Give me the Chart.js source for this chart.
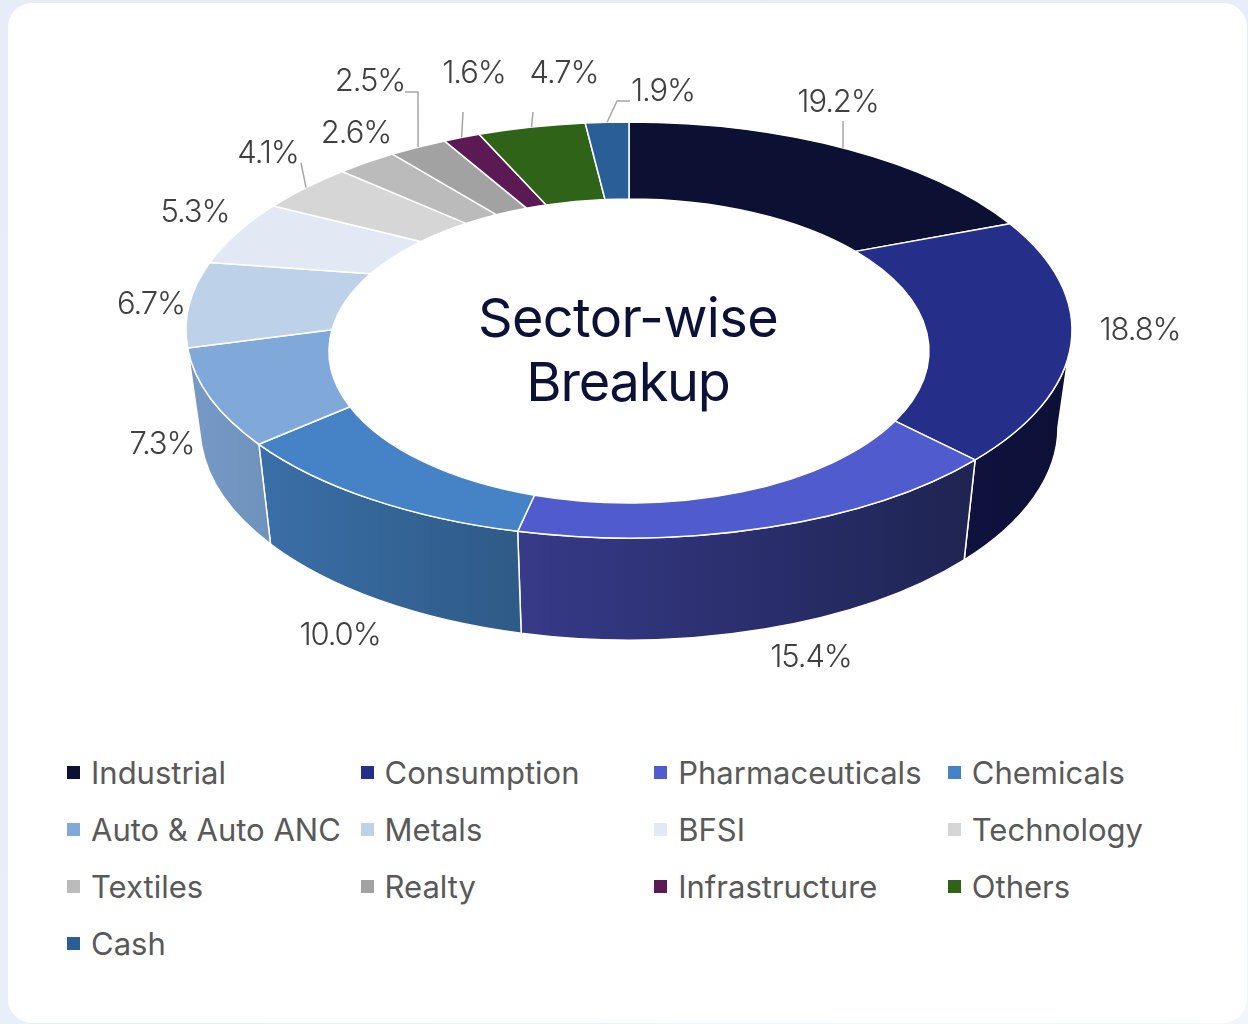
<!DOCTYPE html>
<html>
<head>
<meta charset="utf-8">
<title>Sector-wise Breakup</title>
<script src="https://cdn.jsdelivr.net/npm/chart.js@4/dist/chart.umd.js"></script>
<style>
  html, body { margin: 0; padding: 0; width: 1248px; height: 1024px; overflow: hidden; background: linear-gradient(160deg, #e6edf8 0%, #e8eff9 70%, #f2f6fc 100%); }
  #card { position: absolute; left: 8px; top: 3px; width: 1239px; height: 1020px; background: #fff; border-radius: 24px; }
  #ring { position: absolute; left: 0; top: 0; }
  #legend { position: absolute; left: 67px; top: 744px; display: grid; grid-template-columns: repeat(4, 293.6px); grid-auto-rows: 57px;
    font: 400 31px Inter, sans-serif; color: #595959; }
  .legend-item { display: flex; align-items: center; white-space: nowrap; }
  .legend-dot { width: 13px; height: 13px; margin-right: 11px; flex: none; }
</style>
</head>
<body>
<div id="card"></div>
<canvas id="ring" width="1248" height="720"></canvas>
<div id="legend"></div>
<script>
const CATEGORIES = ['Industrial', 'Consumption', 'Pharmaceuticals', 'Chemicals', 'Auto & Auto ANC', 'Metals', 'BFSI',
  'Technology', 'Textiles', 'Realty', 'Infrastructure', 'Others', 'Cash'];
const VALUES = [19.2, 18.8, 15.4, 10.0, 7.3, 6.7, 5.3, 4.1, 2.6, 2.5, 1.6, 4.7, 1.9];
const COLORS = ['#0c1033', '#252f8a', '#505bce', '#4682c6', '#80a9da', '#bdd2e8', '#e2e9f4',
  '#d6d6d6', '#bbbbbb', '#a2a2a2', '#5c1a55', '#2f6418', '#2a5e96'];
// side wall shades, left and right end of each visible wall
const WALLS = { 1: ['#0f123e', '#0d1036'], 2: ['#363a88', '#1f2453'], 3: ['#3a6ea6', '#2e5a86'], 4: ['#7599c4', '#6e92bb'] };

// label centre, then optional leader elbows
const LABEL_SPOTS = [
  { x: 838, y: 103, leader: [[843, 121]] },
  { x: 1140, y: 331 },
  { x: 811, y: 658 },
  { x: 340, y: 636 },
  { x: 162, y: 445 },
  { x: 151, y: 305 },
  { x: 195, y: 213 },
  { x: 268, y: 154, leader: [[301, 163]] },
  { x: 356, y: 134 },
  { x: 370, y: 82, leader: [[405, 92], [418, 92]] },
  { x: 474, y: 74, leader: [[463, 112]] },
  { x: 564, y: 74, leader: [[533, 112]] },
  { x: 663, y: 92, leader: [[630, 101], [617, 101]] },
];

// ring shape on screen, offsets from the chart centre
const OUTER = { dy: 0, rx: 443, ry: 208 };
const INNER = { dy: 21, rx: 300, ry: 152 };
const BASE = { dy: 97, rx: 429, ry: 213 };
const APEX_DY = -38;
const WARP = 0.19;
const WARP2 = 0.01;

// library angle -> ellipse parameter on the outer edge, canvas convention
function toParam(angle) {
  const t = angle + Math.PI / 2;
  return t - WARP * Math.sin(t) + WARP2 * Math.sin(2 * t) - Math.PI / 2;
}

function outerPoint(arc, angle) {
  const p = toParam(angle);
  return { x: arc.x + OUTER.rx * Math.cos(p), y: arc.y + OUTER.dy + OUTER.ry * Math.sin(p) };
}

// where the slice edge coming from the apex crosses the hole, as a hole ellipse parameter
function innerParam(arc, angle) {
  const o = outerPoint(arc, angle);
  const ax = 0, ay = APEX_DY - INNER.dy;
  const dx = o.x - arc.x, dy = o.y - (arc.y + APEX_DY);
  const a = (dx * dx) / (INNER.rx * INNER.rx) + (dy * dy) / (INNER.ry * INNER.ry);
  const b = 2 * ((ax * dx) / (INNER.rx * INNER.rx) + (ay * dy) / (INNER.ry * INNER.ry));
  const c = (ax * ax) / (INNER.rx * INNER.rx) + (ay * ay) / (INNER.ry * INNER.ry) - 1;
  const s = (-b + Math.sqrt(b * b - 4 * a * c)) / (2 * a);
  const raw = Math.atan2((ay + s * dy) / INNER.ry, (ax + s * dx) / INNER.rx);
  // keep it on the same turn as the outer parameter
  const p = toParam(angle);
  return raw + Math.round((p - raw) / (2 * Math.PI)) * 2 * Math.PI;
}

class RingArc extends Chart.ArcElement {
  static id = 'ringArc';
  draw(ctx) {
    const { startAngle, endAngle, x, y } = this;
    ctx.save();
    ctx.beginPath();
    ctx.ellipse(x, y + OUTER.dy, OUTER.rx, OUTER.ry, 0, toParam(startAngle), toParam(endAngle));
    ctx.ellipse(x, y + INNER.dy, INNER.rx, INNER.ry, 0, innerParam(this, endAngle), innerParam(this, startAngle), true);
    ctx.closePath();
    ctx.fillStyle = this.options.backgroundColor;
    ctx.fill();
    ctx.strokeStyle = this.options.borderColor;
    ctx.lineWidth = this.options.borderWidth;
    ctx.lineJoin = 'round';
    ctx.stroke();
    ctx.restore();
  }
}

class RingController extends Chart.DoughnutController {
  static id = 'ring';
  static defaults = { dataElementType: 'ringArc' };
}

Chart.register(RingArc, RingController);

const ringWalls = {
  id: 'ringWalls',
  beforeDatasetsDraw(chart) {
    const ctx = chart.ctx;
    chart.getDatasetMeta(0).data.forEach((arc, i) => {
      if (!WALLS[i]) return;
      const from = Math.max(toParam(arc.startAngle), 0);
      const to = Math.min(toParam(arc.endAngle), Math.PI);
      if (to <= from) return;
      const left = arc.x + BASE.rx * Math.cos(to);
      const right = arc.x + BASE.rx * Math.cos(from);
      const grad = ctx.createLinearGradient(left, 0, right, 0);
      grad.addColorStop(0, WALLS[i][0]);
      grad.addColorStop(1, WALLS[i][1]);
      ctx.save();
      ctx.beginPath();
      ctx.ellipse(arc.x, arc.y + OUTER.dy, OUTER.rx, OUTER.ry, 0, from, to);
      ctx.ellipse(arc.x, arc.y + BASE.dy, BASE.rx, BASE.ry, 0, to, from, true);
      ctx.closePath();
      ctx.fillStyle = grad;
      ctx.fill();
      ctx.strokeStyle = '#fff';
      ctx.lineWidth = 1.5;
      ctx.stroke();
      ctx.restore();
    });
  },
};

const ringLabels = {
  id: 'ringLabels',
  afterDatasetsDraw(chart) {
    const ctx = chart.ctx;
    const arcs = chart.getDatasetMeta(0).data;
    ctx.save();
    // leaders
    ctx.strokeStyle = '#a6a6a6';
    ctx.lineWidth = 1.5;
    LABEL_SPOTS.forEach((spot, i) => {
      if (!spot.leader) return;
      const arc = arcs[i];
      const end = outerPoint(arc, (arc.startAngle + arc.endAngle) / 2);
      ctx.beginPath();
      spot.leader.forEach((p, k) => (k ? ctx.lineTo(p[0], p[1]) : ctx.moveTo(p[0], p[1])));
      ctx.lineTo(end.x, end.y);
      ctx.stroke();
    });
    // percentages
    ctx.font = '300 31px Inter, sans-serif';
    ctx.letterSpacing = '-1.1px';
    ctx.fillStyle = '#404040';
    ctx.textAlign = 'center';
    ctx.textBaseline = 'middle';
    VALUES.forEach((v, i) => ctx.fillText(v.toFixed(1) + '%', LABEL_SPOTS[i].x, LABEL_SPOTS[i].y));
    // centre title
    ctx.font = '400 54px Inter, sans-serif';
    ctx.letterSpacing = '-0.6px';
    ctx.fillStyle = '#0c1138';
    ctx.fillText('Sector-wise', 628, 321);
    ctx.letterSpacing = '-1.2px';
    ctx.fillText('Breakup', 628, 385);
    ctx.restore();
  },
};

new Chart(document.getElementById('ring'), {
  type: 'ring',
  data: {
    labels: CATEGORIES,
    datasets: [{ data: VALUES, backgroundColor: COLORS, borderColor: '#fff', borderWidth: 1.5 }],
  },
  options: {
    responsive: false,
    animation: false,
    layout: { padding: { left: 10, bottom: 60 } },
    plugins: { legend: { display: false }, tooltip: { enabled: false } },
  },
  plugins: [ringWalls, ringLabels],
});

const legend = document.getElementById('legend');
CATEGORIES.forEach((name, i) => {
  const item = document.createElement('div');
  item.className = 'legend-item';
  const dot = document.createElement('span');
  dot.className = 'legend-dot';
  dot.style.backgroundColor = COLORS[i];
  const label = document.createElement('span');
  label.textContent = name;
  item.appendChild(dot);
  item.appendChild(label);
  legend.appendChild(item);
});
</script>
</body>
</html>
